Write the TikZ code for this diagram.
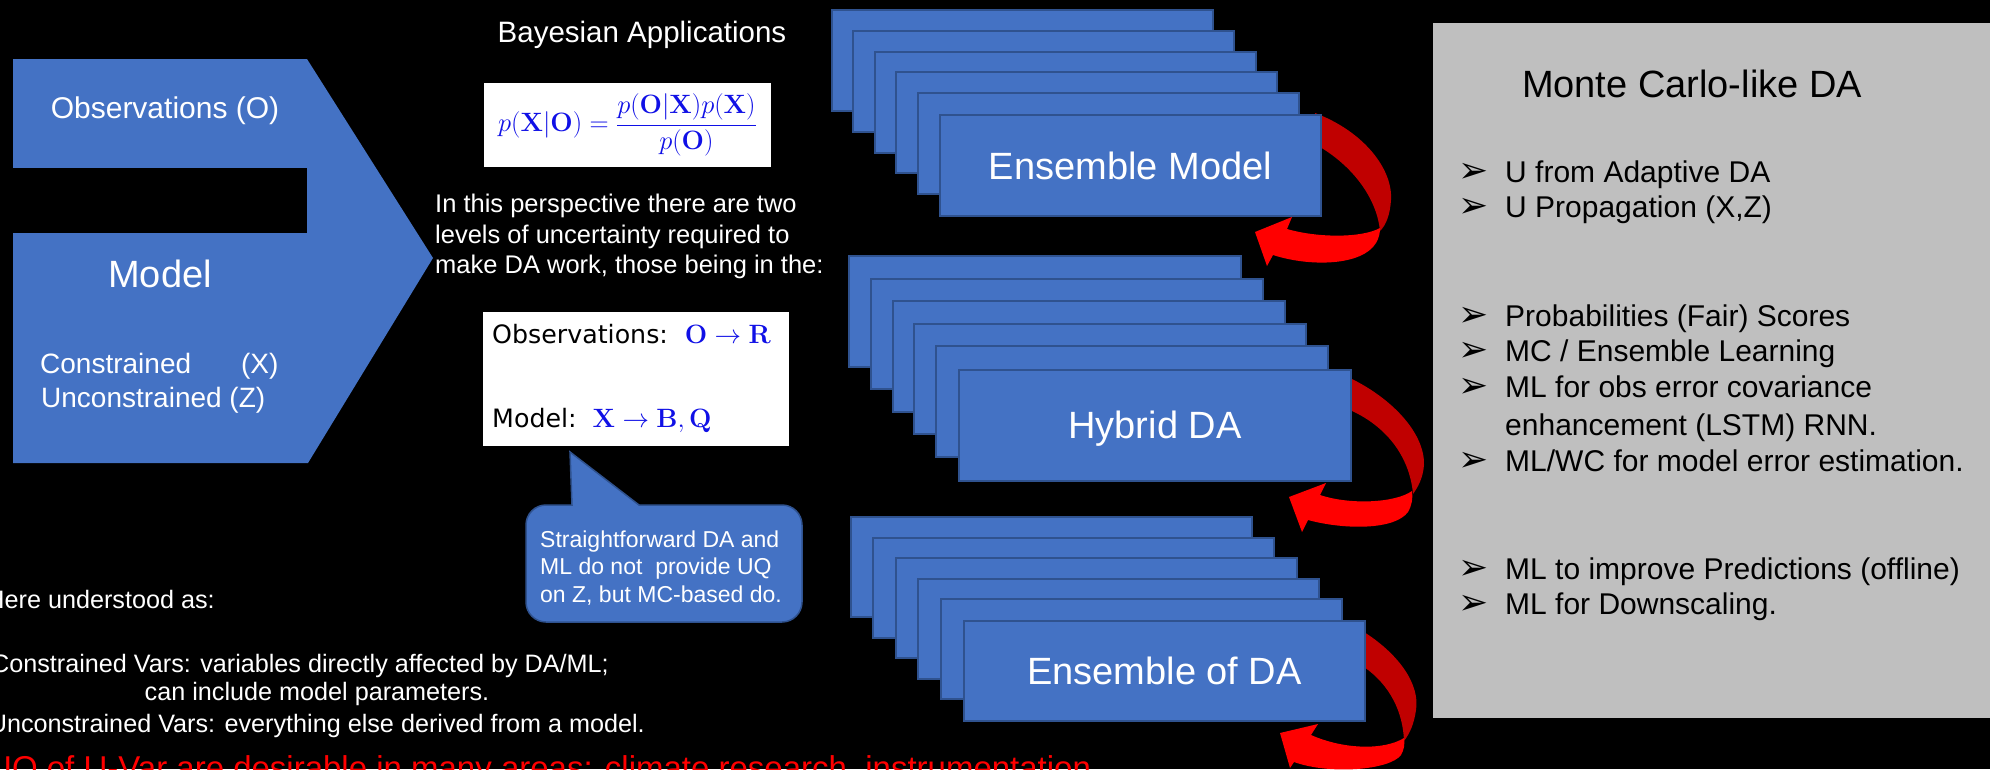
\documentclass[tikz,border=0pt]{standalone}
\usepackage{fix-cm}
\usepackage[no-math]{fontspec}
\setmainfont{Liberation Sans}
\newfontfamily\bulletfont{DejaVu Sans}
\newfontfamily\boxfont{DejaVu Sans}
\definecolor{dablue}{HTML}{4472C4}
\definecolor{daborder}{HTML}{2F528F}
\definecolor{darkred}{HTML}{C00000}
\definecolor{brightred}{HTML}{FF0000}
\definecolor{graybox}{HTML}{BFBFBF}
\definecolor{formblue}{HTML}{1010E6}
\newcommand{\fsz}[1]{\fontsize{#1}{#1}\selectfont}
\tikzset{
  wtxt/.style={text=white, inner sep=0pt},
  btxt/.style={text=black, inner sep=0pt},
  stackrect/.style={fill=dablue, draw=daborder, line width=2pt},
  stackbox/.style={stackrect, text=white, inner sep=0pt, font=\fsz{38}, text height=27pt, text depth=0pt, anchor=north west},
  mcitem/.style={btxt, anchor=base west, font=\fsz{30}},
}
\newcommand{\mcbullet}{\makebox[47pt][l]{\bulletfont\fsz{36}\symbol{"27A2}}}
\begin{document}
\begin{tikzpicture}[x=1pt,y=-1pt]
\fill[black] (0,0) rectangle (1990,769);
\useasboundingbox (0,0) rectangle (1990,769);

% ---- left chevron
\fill[dablue] (13,59) -- (307,59) -- (433,258) -- (308,463) -- (13,463) -- cycle;
\fill[black] (0,168) rectangle (307,233);
\node[wtxt, font=\fsz{30}, anchor=base] (obs) at (165,118) {Observations (O)};
\node[wtxt, font=\fsz{38}, anchor=base] (model) at (160,287) {Model};
\node[wtxt, font=\fsz{28}, anchor=base west] (cons) at (40,373) {Constrained\hspace{50pt}(X)};
\node[wtxt, font=\fsz{28}, anchor=base west] (uncons) at (41,407) {Unconstrained (Z)};

% ---- Bayesian column
\node[wtxt, font=\fsz{29.5}, anchor=base] (bayt) at (642,42) {Bayesian Applications};
\node[fill=white, inner sep=0pt, minimum width=287pt, minimum height=84pt, text=formblue, font=\fsz{26.5}] (bayes) at (627.5,125)
  {$\displaystyle p(\mathbf{X}|\mathbf{O})=\frac{p(\mathbf{O}|\mathbf{X})p(\mathbf{X})}{p(\mathbf{O})}$};
\node[wtxt, font=\fsz{25.5}, anchor=base west] (p1) at (435,212) {In this perspective there are two};
\node[wtxt, font=\fsz{25.5}, anchor=base west] (p2) at (435,243) {levels of uncertainty required to};
\node[wtxt, font=\fsz{25.5}, anchor=base west] (p3) at (435,273) {make DA work, those being in the:};

\node[fill=white, inner sep=0pt, minimum width=306pt, minimum height=134pt, anchor=north west] (uqbox) at (483,312) {};
\node[btxt, font=\boxfont\fsz{25.3}, anchor=base west] (uqo) at (492,343)
  {Observations:\hspace{17pt}{\fsz{26.5}\textcolor{formblue}{$\mathbf{O}\to\mathbf{R}$}}};
\node[btxt, font=\boxfont\fsz{25.3}, anchor=base west] (uqm) at (492,427)
  {Model:\hspace{16pt}{\fsz{26.5}\textcolor{formblue}{$\mathbf{X}\to\mathbf{B},\mathbf{Q}$}}};

% ---- callout
\path[fill=dablue, draw=daborder, line width=1.5pt] (526,525) arc[start angle=180, end angle=270, radius=20]
  -- (572,505) -- (570,452) -- (639,505) -- (782,505) arc[start angle=270, end angle=360, radius=20]
  -- (802,602) arc[start angle=0, end angle=90, radius=20]
  -- (546,622) arc[start angle=90, end angle=180, radius=20] -- cycle;
\node[wtxt, font=\fsz{23}, anchor=base west] (c1) at (540,547) {Straightforward DA and};
\node[wtxt, font=\fsz{23}, anchor=base west] (c2) at (540,574.5) {ML do not\ \ provide UQ};
\node[wtxt, font=\fsz{23}, anchor=base west] (c3) at (540,602) {on Z, but MC-based do.};

% ---- left bottom text
\node[wtxt, font=\fsz{25.2}, anchor=base east] (l1) at (215,608) {Here understood as:};
\node[wtxt, font=\fsz{25.2}, anchor=base east] (l2) at (609,672) {Constrained Vars: variables directly affected by DA/ML;};
\node[wtxt, font=\fsz{25.2}, anchor=base] (l3) at (317,700) {can include model parameters.};
\node[wtxt, font=\fsz{25.2}, anchor=base east] (l4) at (645,732) {Unconstrained Vars: everything else derived from a model.};
\node[inner sep=0pt, text=brightred, font=\fsz{33}, anchor=base west] (uqline) at (-12,779)
  {UQ of U-Var are desirable in many areas: climate research, instrumentation};

% ---- curved red arrows
\fill[darkred] (1315,113) .. controls (1365,132) and (1393,170) .. (1391,200)
  .. controls (1390,215) and (1386,225) .. (1380,231)
  .. controls (1377,200) and (1355,168) .. (1320,147) -- cycle;
\fill[brightred] (1380,228) .. controls (1362,238) and (1318,238) .. (1287,229)
  -- (1292,217) -- (1255,232) -- (1267,266) -- (1273,255)
  .. controls (1310,267) and (1362,266) .. (1376,243)
  .. controls (1379,238) and (1380,233) .. (1380,228) -- cycle;

\fill[darkred] (1350,378) .. controls (1395,400) and (1425,435) .. (1424,465)
  .. controls (1423,478) and (1418,487) .. (1413,494)
  .. controls (1410,460) and (1390,428) .. (1350,410) -- cycle;
\fill[brightred] (1412,491) .. controls (1395,503) and (1350,505) .. (1320,495)
  -- (1326,483) -- (1289,497) -- (1302,532) -- (1308,520)
  .. controls (1345,530) and (1395,530) .. (1408,512)
  .. controls (1412,505) and (1413,498) .. (1412,491) -- cycle;

\fill[darkred] (1364,632) .. controls (1400,655) and (1420,685) .. (1416,710)
  .. controls (1414,724) and (1410,733) .. (1404,741)
  .. controls (1403,712) and (1390,685) .. (1364,667) -- cycle;
\fill[brightred] (1404,738) .. controls (1385,750) and (1345,750) .. (1311,735)
  -- (1318,724) -- (1280,733) -- (1290,768) -- (1294,762)
  .. controls (1330,775) and (1390,770) .. (1401,755)
  .. controls (1404,750) and (1405,744) .. (1404,738) -- cycle;

% ---- stacks
\foreach \i in {0,...,4} \draw[stackrect] ({832+\i*21.4},{10+\i*20.8}) rectangle ++(381,101);
\node[stackbox, minimum width=381pt, minimum height=101pt] (ensmodel) at (939,114) {Ensemble Model};

\foreach \i in {0,...,4} \draw[stackrect] ({849+\i*21.8},{256+\i*22.6}) rectangle ++(392,110.5);
\node[stackbox, minimum width=392pt, minimum height=110.5pt] (hybrid) at (958,369) {Hybrid DA};

\foreach \i in {0,...,4} \draw[stackrect] ({851+\i*22.4},{517+\i*20.6}) rectangle ++(401,100);
\node[stackbox, minimum width=401pt, minimum height=100pt] (ensda) at (963,620) {Ensemble of DA};

% ---- Monte Carlo box
\node[fill=graybox, inner sep=0pt, minimum width=570pt, minimum height=695pt, anchor=north west] (mcbox) at (1433,23) {};
\node[btxt, font=\fsz{38}, anchor=base] (mctitle) at (1692,97) {Monte Carlo-like DA};
\node[mcitem] (b1) at (1458,182) {\mcbullet U from Adaptive DA};
\node[mcitem] (b2) at (1458,217) {\mcbullet U Propagation (X,Z)};
\node[mcitem] (b3) at (1458,326) {\mcbullet Probabilities (Fair) Scores};
\node[mcitem] (b4) at (1458,361) {\mcbullet MC / Ensemble Learning};
\node[mcitem] (b5) at (1458,397) {\mcbullet ML for obs error covariance};
\node[mcitem] (b6) at (1505,435) {enhancement (LSTM) RNN.};
\node[mcitem] (b7) at (1458,471) {\mcbullet ML/WC for model error estimation.};
\node[mcitem] (b8) at (1458,579) {\mcbullet ML to improve Predictions (offline)};
\node[mcitem] (b9) at (1458,614) {\mcbullet ML for Downscaling.};
\end{tikzpicture}
\end{document}
